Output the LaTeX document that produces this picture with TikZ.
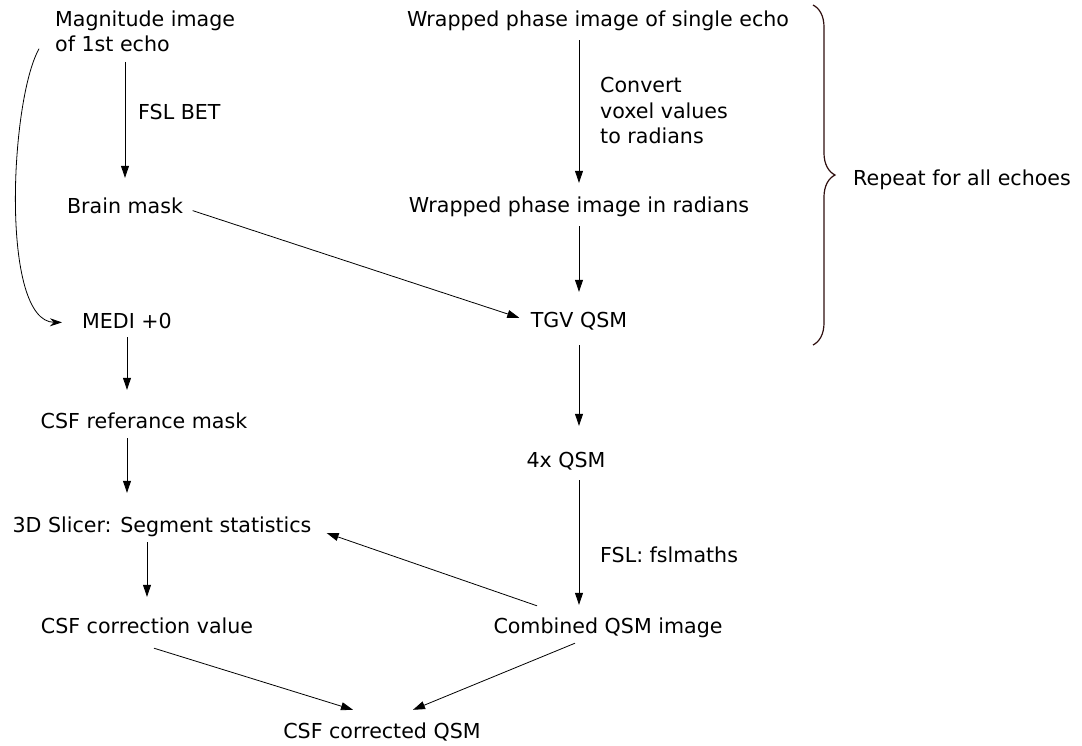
\documentclass[tikz,border=0pt]{standalone}
\usepackage{fontspec}
\setmainfont{DejaVu Sans}
\usepackage{tikz}
\usetikzlibrary{positioning,arrows.meta,calc,decorations.pathreplacing}
\definecolor{ink}{HTML}{000000}
\definecolor{bracecol}{HTML}{2E0E0E}

\begin{document}
\begin{tikzpicture}[x=1pt,y=-1pt,font=\fontsize{20.6}{25.3}\selectfont,
  stage/.style={inner sep=0pt,text height=15pt,text depth=4pt},
  note/.style={inner sep=0pt,align=left},
  flow/.style={draw=ink,line width=0.8pt,-{Triangle[length=12pt,width=8pt]},
    shorten <=10pt,shorten >=20pt}]
  \useasboundingbox (0,0) rectangle (1082,745);
  % left column
  \node[note,anchor=west] (mag) at (55,31) {Magnitude image\\of 1st echo};
  \node[stage] (brain)     at (125,207.5) {Brain mask};
  \node[stage] (medi)      at (127,322.5) {MEDI +0};
  \node[stage] (csfmask)   at (144,422.5) {CSF referance mask};
  \node[stage] (slicer)    at (162,526.5) {3D Slicer: Segment statistics};
  \node[stage] (csfval)    at (147,627.5) {CSF correction value};
  \node[stage] (corrected) at (382,732.5) {CSF corrected QSM};
  % right column
  \node[stage] (wrap)      at (598,20.5)  {Wrapped phase image of single echo};
  \node[stage] (wraprad)   at (579,206.5) {Wrapped phase image in radians};
  \node[stage] (tgv)       at (579,321.5) {TGV QSM};
  \node[stage] (four)      at (566,461.5) {4x QSM};
  \node[stage] (combined)  at (608,627.5) {Combined QSM image};
  % step labels
  \node[note,anchor=base west] (bet) at (138,119) {FSL BET};
  \node[note,anchor=north west] (convert) at (600,77.4)
    {Convert\\voxel values\\to radians};
  \node[note,anchor=base west] (fsl) at (600,562) {FSL: fslmaths};
  \node[note,anchor=base west] (repeat) at (853,185) {Repeat for all echoes};

  \draw[flow] (mag.south -| brain) -- (brain);
  \draw[flow,-{Stealth[length=12pt,width=8pt]}] (mag.west) ++(-11,9)
    .. controls (10,100) and (0,322) .. (medi.west);
  \draw[flow,shorten <=5pt,shorten >=23pt] (medi) -- (csfmask.north -| medi);
  \draw[flow,shorten <=6pt,shorten >=24pt] (csfmask.south -| medi) -- (slicer.north -| medi);
  \draw[flow,shorten <=6pt,shorten >=21pt] (slicer.south -| csfval) -- (csfval);
  \draw[flow,shorten >=12pt] (brain.east) -- (tgv.west);
  \draw[flow,shorten >=14pt] (wrap.south -| wraprad) -- (wraprad);
  \draw[flow] (wraprad) -- (tgv);
  \draw[flow,shorten <=14pt,shorten >=26pt] (tgv) -- (four.north -| tgv);
  \draw[flow,shorten <=9pt,shorten >=13pt] (four.south -| tgv) -- (combined.north -| tgv);
  \draw[flow,shorten <=0pt,shorten >=0pt]
    ([xshift=-71pt,yshift=12pt]combined.north) -- ([xshift=15pt,yshift=-6.5pt]slicer.east);
  \draw[flow,shorten <=0pt,shorten >=0pt]
    ([xshift=-33pt,yshift=-6pt]combined.south) -- ([xshift=31pt,yshift=13pt]corrected.north);
  \draw[flow,shorten <=0pt,shorten >=0pt]
    ([xshift=7pt,yshift=-11pt]csfval.south) -- ([xshift=-29pt,yshift=13pt]corrected.north);
  % repeat brace
  \draw[bracecol,line width=1.2pt,decorate,decoration={brace,amplitude=22pt}]
    (813,5) -- (813,345);
\end{tikzpicture}
\end{document}
